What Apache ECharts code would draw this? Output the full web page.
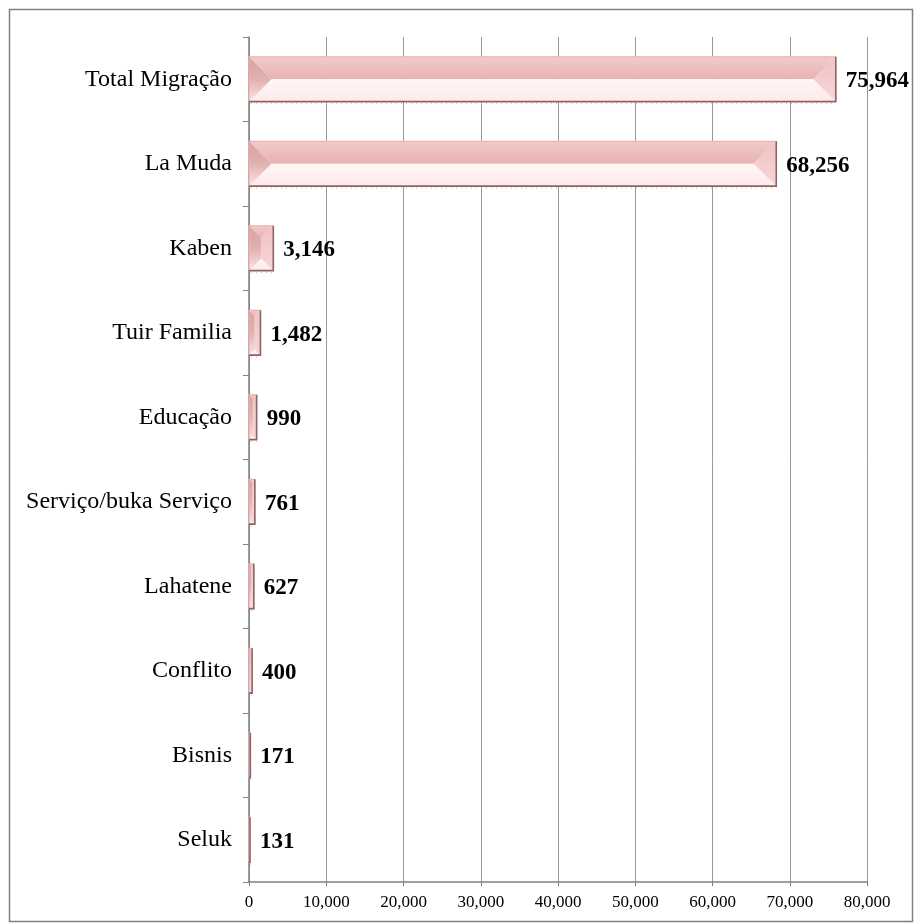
<!DOCTYPE html>
<html><head><meta charset="utf-8">
<script src="https://cdn.jsdelivr.net/npm/echarts@6/dist/echarts.min.js"></script>
<style>html,body{margin:0;padding:0;background:#fff}#c{width:915px;height:924px}</style>
</head><body><div id="c"></div>
<script>
const categories = ['Total Migração','La Muda','Kaben','Tuir Familia','Educação','Serviço/buka Serviço','Lahatene','Conflito','Bisnis','Seluk'];
const values = [75964,68256,3146,1482,990,761,627,400,171,131];
const xTicks = [0,10000,20000,30000,40000,50000,60000,70000,80000];

const fmt = v => v.toLocaleString('en-US');
const chart = echarts.init(document.getElementById('c'));

function renderItem(params, api){
  const idx = api.value(0), val = api.value(1);
  const p0 = api.coord([0, idx]), p1 = api.coord([val, idx]);
  const band = api.size([0, 1])[1];
  const h = band * 0.53;
  const x0 = p0[0], x1 = Math.max(p1[0], x0 + 1), yc = p0[1];
  const yT = yc - h/2, yB = yc + h/2;
  const w = x1 - x0;
  const b = Math.min(h/2, w/2);
  const children = [
    {type:'polygon',shape:{points:[[x0,yT],[x1,yT],[x1-b,yT+b],[x0+b,yT+b]]},
      style:{fill:{type:'linear',x:0,y:0,x2:0,y2:1,colorStops:[{offset:0,color:'#f3caca'},{offset:1,color:'#e7b2b2'}]}}},
    {type:'polygon',shape:{points:[[x0,yB],[x1,yB],[x1-b,yB-b],[x0+b,yB-b]]},
      style:{fill:{type:'linear',x:0,y:0,x2:0,y2:1,colorStops:[{offset:0,color:'#fff6f6'},{offset:1,color:'#fdeaea'}]}}},
    {type:'polygon',shape:{points:[[x0,yT],[x0+b,yT+b],[x0+b,yB-b],[x0,yB]]},
      style:{fill:{type:'linear',x:0,y:0,x2:0,y2:1,colorStops:[{offset:0,color:'#d7a2a2'},{offset:0.5,color:'#e2b0b0'},{offset:1,color:'#fbe4e4'}]}}},
    {type:'polygon',shape:{points:[[x1,yT],[x1-b,yT+b],[x1-b,yB-b],[x1,yB]]},
      style:{fill:{type:'linear',x:0,y:0,x2:0,y2:1,colorStops:[{offset:0,color:'#f0c2c2'},{offset:1,color:'#f7d6d6'}]}}},
    {type:'polyline',shape:{points:[[x0,yB],[x0,yT],[x1,yT]]},style:{stroke:'#e9b4b4',lineWidth:1.2,fill:null}},
    {type:'polyline',shape:{points:[[x1,yT],[x1,yB],[x0,yB]]},style:{stroke:'#8e6262',lineWidth:1.6,fill:null}},
    {type:'line',shape:{x1:x0+2,y1:yB+2,x2:x1,y2:yB+2},style:{stroke:'#e4a9a9',lineWidth:1,lineDash:[1,4]}},
    {type:'text',style:{x:x1+10,y:yc+2,text:fmt(val),fill:'#000',font:'bold 23px "Liberation Serif"',textAlign:'left',textVerticalAlign:'middle'}}
  ];
  return {type:'group',children};
}

chart.setOption({
  animation:false,
  graphic:[{type:'rect',shape:{x:9.5,y:9.5,width:903,height:912},style:{fill:'none',stroke:'#808080',lineWidth:1.5}}],
  grid:{left:249,right:48,top:37,bottom:42},
  xAxis:{type:'value',min:0,max:80000,interval:10000,
    axisLine:{show:true,lineStyle:{color:'#808080',width:1.5}},
    axisTick:{show:true,length:4,lineStyle:{color:'#808080'}},
    splitLine:{show:true,lineStyle:{color:'#999',width:1}},
    axisLabel:{fontFamily:'Liberation Serif',fontSize:17,color:'#000',margin:12,formatter:v=>fmt(v)}},
  yAxis:{type:'category',data:categories,inverse:true,
    axisLine:{show:true,lineStyle:{color:'#808080',width:1.5}},
    axisTick:{show:true,length:6,lineStyle:{color:'#808080'}},
    axisLabel:{fontFamily:'Liberation Serif',fontSize:24,color:'#000',margin:17}},
  series:[{type:'custom',renderItem,encode:{x:1,y:0},
    data:values.map((v,i)=>[i,v])}]
});
</script></body></html>
